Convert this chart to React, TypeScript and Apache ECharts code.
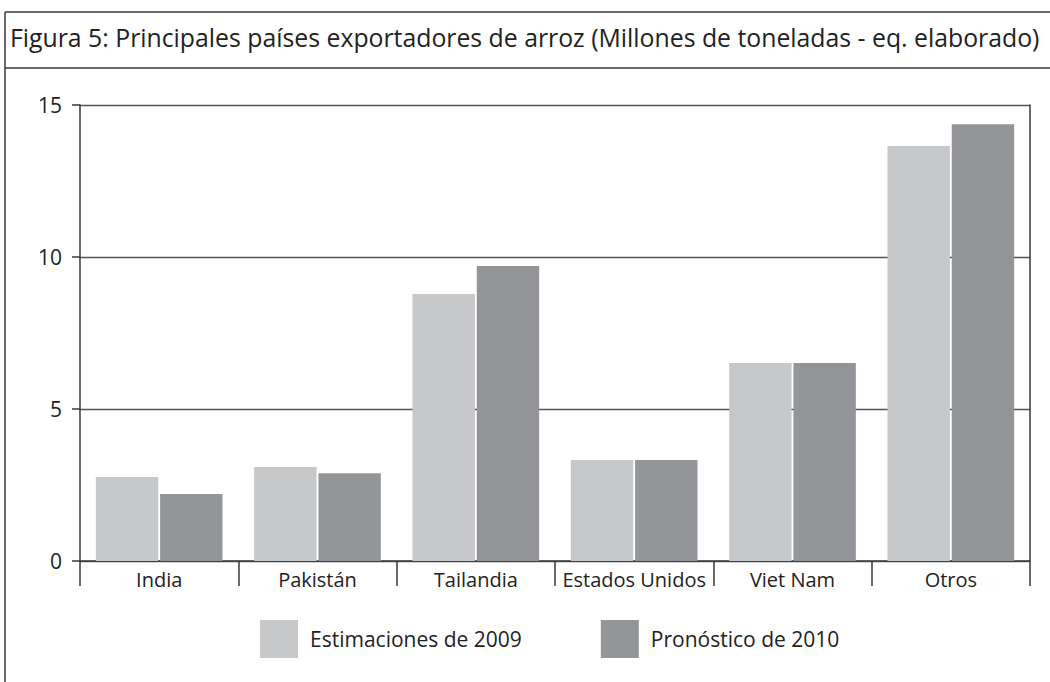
import React, { useEffect, useRef } from "react";
import * as echarts from "echarts";

const titleText =
  "Figura 5: Principales países exportadores de arroz (Millones de toneladas - eq. elaborado)";
const categories = ["India", "Pakistán", "Tailandia", "Estados Unidos", "Viet Nam", "Otros"];
const seriesNames = ["Estimaciones de 2009", "Pronóstico de 2010"];
const est2009 = [2.76, 3.09, 8.78, 3.32, 6.51, 13.65];
const pron2010 = [2.2, 2.89, 9.7, 3.32, 6.51, 14.37];
const yTicks = { min: 0, max: 15, interval: 5 };

const FONT = "'Open Sans', 'Noto Sans', sans-serif";
const LIGHT = "#c7c8ca";
const DARK = "#939598";
const LINE = "#3a3a3a";

export default function App() {
  const ref = useRef<HTMLDivElement>(null);
  useEffect(() => {
    if (!ref.current) return;
    const chart = echarts.init(ref.current, undefined, { renderer: "svg" });
    chart.setOption({
      animation: false,
      backgroundColor: "#ffffff",
      textStyle: { fontFamily: FONT },
      graphic: [
        { type: "line", shape: { x1: 5, y1: 12, x2: 1050, y2: 12 }, style: { stroke: LINE, lineWidth: 1.5 } },
        { type: "line", shape: { x1: 5, y1: 68, x2: 1050, y2: 68 }, style: { stroke: LINE, lineWidth: 1.5 } },
        { type: "line", shape: { x1: 5, y1: 12, x2: 5, y2: 682 }, style: { stroke: LINE, lineWidth: 1.5 } },
        {
          type: "text",
          left: 10,
          top: 24,
          style: { text: titleText, fontFamily: FONT, fontSize: 24.8, fill: "#222" },
        },
      ],
      legend: {
        left: 260,
        top: 620,
        padding: 0,
        itemWidth: 38,
        itemHeight: 38,
        itemGap: 79,
        icon: "rect",
        data: seriesNames,
        textStyle: { fontFamily: FONT, fontSize: 21, color: "#222", padding: [0, 0, 0, 7] },
      },
      grid: { left: 80, right: 20, top: 105, bottom: 121, containLabel: false },
      xAxis: {
        type: "category",
        data: categories,
        axisLine: { show: true, lineStyle: { color: LINE, width: 1.5 } },
        axisTick: { show: true, length: 25, interval: 0, lineStyle: { color: LINE, width: 1.5 } },
        axisLabel: { interval: 0, margin: 8, fontFamily: FONT, fontSize: 20, color: "#222" },
      },
      yAxis: [
        {
          type: "value",
          min: yTicks.min,
          max: yTicks.max,
          interval: yTicks.interval,
          axisLine: { show: true, lineStyle: { color: LINE, width: 1.5 } },
          axisTick: { show: true, length: 8, lineStyle: { color: LINE, width: 1.5 } },
          axisLabel: { margin: 18, fontFamily: FONT, fontSize: 21, color: "#222" },
          splitLine: { show: true, lineStyle: { color: "#555", width: 1.3 } },
        },
        {
          type: "value",
          position: "right",
          min: yTicks.min,
          max: yTicks.max,
          interval: yTicks.interval,
          axisLine: { show: true, lineStyle: { color: LINE, width: 1.5 } },
          axisTick: { show: false },
          axisLabel: { show: false },
          splitLine: { show: false },
        },
      ],
      series: [
        {
          name: seriesNames[0],
          type: "bar",
          data: est2009,
          itemStyle: { color: LIGHT },
          barCategoryGap: "20%",
          barGap: "3%",
        },
        {
          name: seriesNames[1],
          type: "bar",
          data: pron2010,
          itemStyle: { color: DARK },
          barCategoryGap: "20%",
          barGap: "3%",
        },
      ],
    });
    return () => chart.dispose();
  }, []);
  return (
    <div
      ref={ref}
      style={{ position: "fixed", left: 0, top: 0, width: 1050, height: 682, background: "#fff" }}
    />
  );
}
